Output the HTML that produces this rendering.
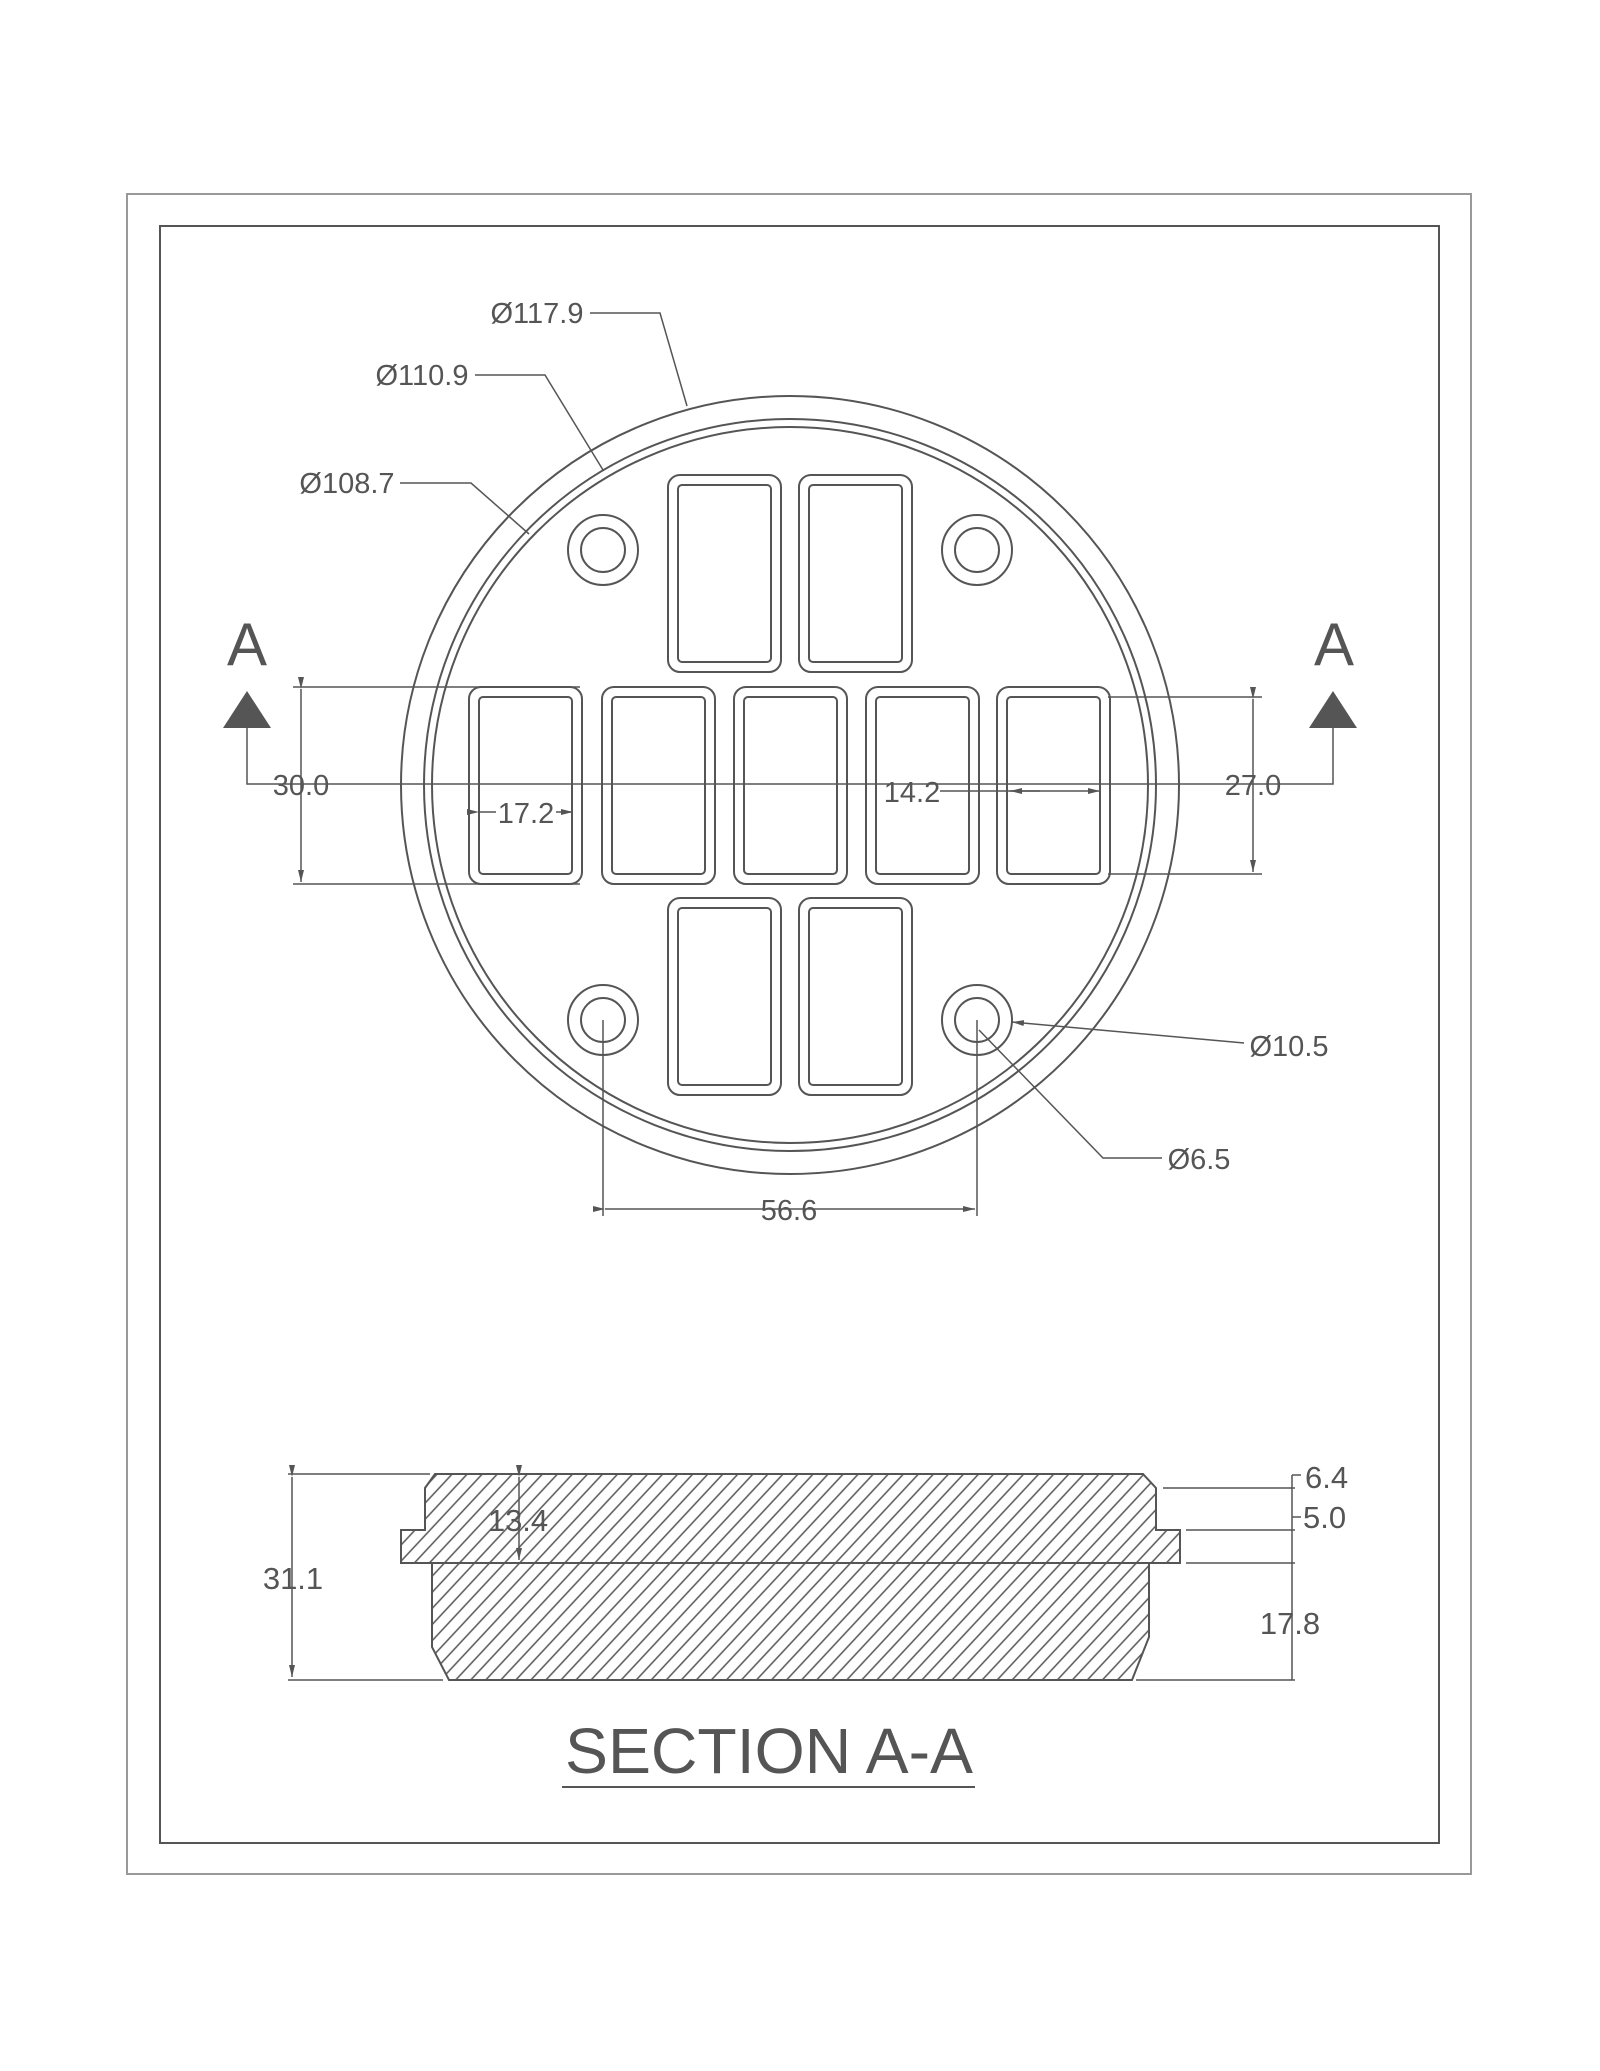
<!DOCTYPE html>
<html><head><meta charset="utf-8"><style>
html,body{margin:0;padding:0;background:#fff;}
svg{display:block;}
text{font-family:"Liberation Sans",Arial,sans-serif;fill:#555;}
</style></head><body>
<svg width="1600" height="2071" viewBox="0 0 1600 2071" xmlns="http://www.w3.org/2000/svg">
<defs>
<pattern id="h" patternUnits="userSpaceOnUse" width="11" height="11" patternTransform="rotate(43)">
<line x1="5" y1="0" x2="5" y2="11" stroke="#555" stroke-width="1.5"/>
</pattern>
<g id="r"><rect x="0" y="0" width="113" height="197" rx="12" fill="none" stroke="#555" stroke-width="2"/><rect x="10" y="10" width="93" height="177" rx="4" fill="none" stroke="#555" stroke-width="2"/></g>
<marker id="ar" markerWidth="12" markerHeight="8" refX="12" refY="4" orient="auto" markerUnits="userSpaceOnUse"><path d="M0,1 L12,4 L0,7z" fill="#555"/></marker>
</defs>
<rect x="127" y="194" width="1344" height="1680" fill="none" stroke="#999" stroke-width="2"/>
<rect x="160" y="226" width="1279" height="1617" fill="none" stroke="#555" stroke-width="2"/>

<g fill="none" stroke="#555" stroke-width="2">
<circle cx="790" cy="785" r="389"/>
<circle cx="790" cy="785" r="366"/>
<circle cx="790" cy="785" r="358"/>
<circle cx="603" cy="550" r="35"/><circle cx="603" cy="550" r="22"/>
<circle cx="977" cy="550" r="35"/><circle cx="977" cy="550" r="22"/>
<circle cx="603" cy="1020" r="35"/><circle cx="603" cy="1020" r="22"/>
<circle cx="977" cy="1020" r="35"/><circle cx="977" cy="1020" r="22"/>
</g>
<use href="#r" x="668" y="475"/><use href="#r" x="799" y="475"/>
<use href="#r" x="469" y="687"/><use href="#r" x="602" y="687"/><use href="#r" x="734" y="687"/><use href="#r" x="866" y="687"/><use href="#r" x="997" y="687"/>
<use href="#r" x="668" y="898"/><use href="#r" x="799" y="898"/>

<g fill="none" stroke="#555" stroke-width="1.5">
<polyline points="590,313 660,313 687,406"/>
<polyline points="475,375 545,375 603,470"/>
<polyline points="400,483 471,483 529,534"/>
<polyline points="247,728 247,784 1333,784 1333,728"/>
<line x1="293" y1="687" x2="580" y2="687"/><line x1="293" y1="884" x2="580" y2="884"/>
<line x1="301" y1="689" x2="301" y2="882" marker-start="url(#ar)" marker-end="url(#ar)"/>
<line x1="1108" y1="697" x2="1262" y2="697"/><line x1="1108" y1="874" x2="1262" y2="874"/>
<line x1="1253" y1="699" x2="1253" y2="872" marker-start="url(#ar)" marker-end="url(#ar)"/>
<line x1="479" y1="812" x2="496" y2="812" marker-start="url(#ar)"/>
<line x1="556" y1="812" x2="573" y2="812" marker-end="url(#ar)"/>
<line x1="940" y1="791" x2="1100" y2="791" marker-end="url(#ar)"/>
<line x1="1040" y1="791" x2="1010" y2="791" marker-end="url(#ar)"/>
<line x1="603" y1="1020" x2="603" y2="1216"/><line x1="977" y1="1020" x2="977" y2="1216"/>
<line x1="605" y1="1209" x2="975" y2="1209" marker-start="url(#ar)" marker-end="url(#ar)"/>
<line x1="1244" y1="1043" x2="1012" y2="1022" marker-end="url(#ar)"/>
<polyline points="1162,1158 1103,1158 979,1030"/>
</g>
<g fill="#555"><path d="M247,691 L223,728 L271,728z"/><path d="M1333,691 L1309,728 L1357,728z"/></g>

<g font-size="29" text-anchor="middle">
<text x="537" y="323">Ø117.9</text>
<text x="422" y="385">Ø110.9</text>
<text x="347" y="493">Ø108.7</text>
<text x="301" y="795">30.0</text>
<text x="1253" y="795">27.0</text>
<text x="526" y="823">17.2</text>
<text x="912" y="802">14.2</text>
<text x="789" y="1220">56.6</text>
<text x="1289" y="1056">Ø10.5</text>
<text x="1199" y="1169">Ø6.5</text>
</g>
<g font-size="60" text-anchor="middle"><text x="247" y="665">A</text><text x="1334" y="665">A</text></g>

<!-- section -->
<path d="M435,1474 L1143,1474 L1156,1488 L1156,1530 L1180,1530 L1180,1563 L1149,1563 L1149,1637 L1132,1680 L449,1680 L432,1647 L432,1563 L401,1563 L401,1530 L425,1530 L425,1488 Z" fill="url(#h)" stroke="#555" stroke-width="2"/>
<line x1="401" y1="1563" x2="1180" y2="1563" stroke="#555" stroke-width="2"/>
<g fill="none" stroke="#555" stroke-width="1.5">
<line x1="288" y1="1474" x2="430" y2="1474"/><line x1="288" y1="1680" x2="443" y2="1680"/>
<line x1="292" y1="1477" x2="292" y2="1677" marker-start="url(#ar)" marker-end="url(#ar)"/>
<line x1="519" y1="1477" x2="519" y2="1560" marker-start="url(#ar)" marker-end="url(#ar)"/>
<line x1="1163" y1="1488" x2="1295" y2="1488"/>
<line x1="1186" y1="1530" x2="1295" y2="1530"/>
<line x1="1186" y1="1563" x2="1295" y2="1563"/>
<line x1="1136" y1="1680" x2="1295" y2="1680"/>
<line x1="1292" y1="1475" x2="1292" y2="1680"/>
<line x1="1292" y1="1475" x2="1301" y2="1475"/>
<line x1="1292" y1="1517" x2="1301" y2="1517"/>
</g>
<g font-size="31" text-anchor="middle">
<text x="293" y="1589">31.1</text>
<text x="518" y="1531">13.4</text>
<text x="1290" y="1634">17.8</text>
</g>
<g font-size="31"><text x="1305" y="1488">6.4</text><text x="1303" y="1528">5.0</text></g>
<text x="565" y="1773" font-size="64" textLength="408" lengthAdjust="spacingAndGlyphs">SECTION A-A</text>
<line x1="562" y1="1787" x2="975" y2="1787" stroke="#555" stroke-width="2"/>
</svg>
</body></html>
